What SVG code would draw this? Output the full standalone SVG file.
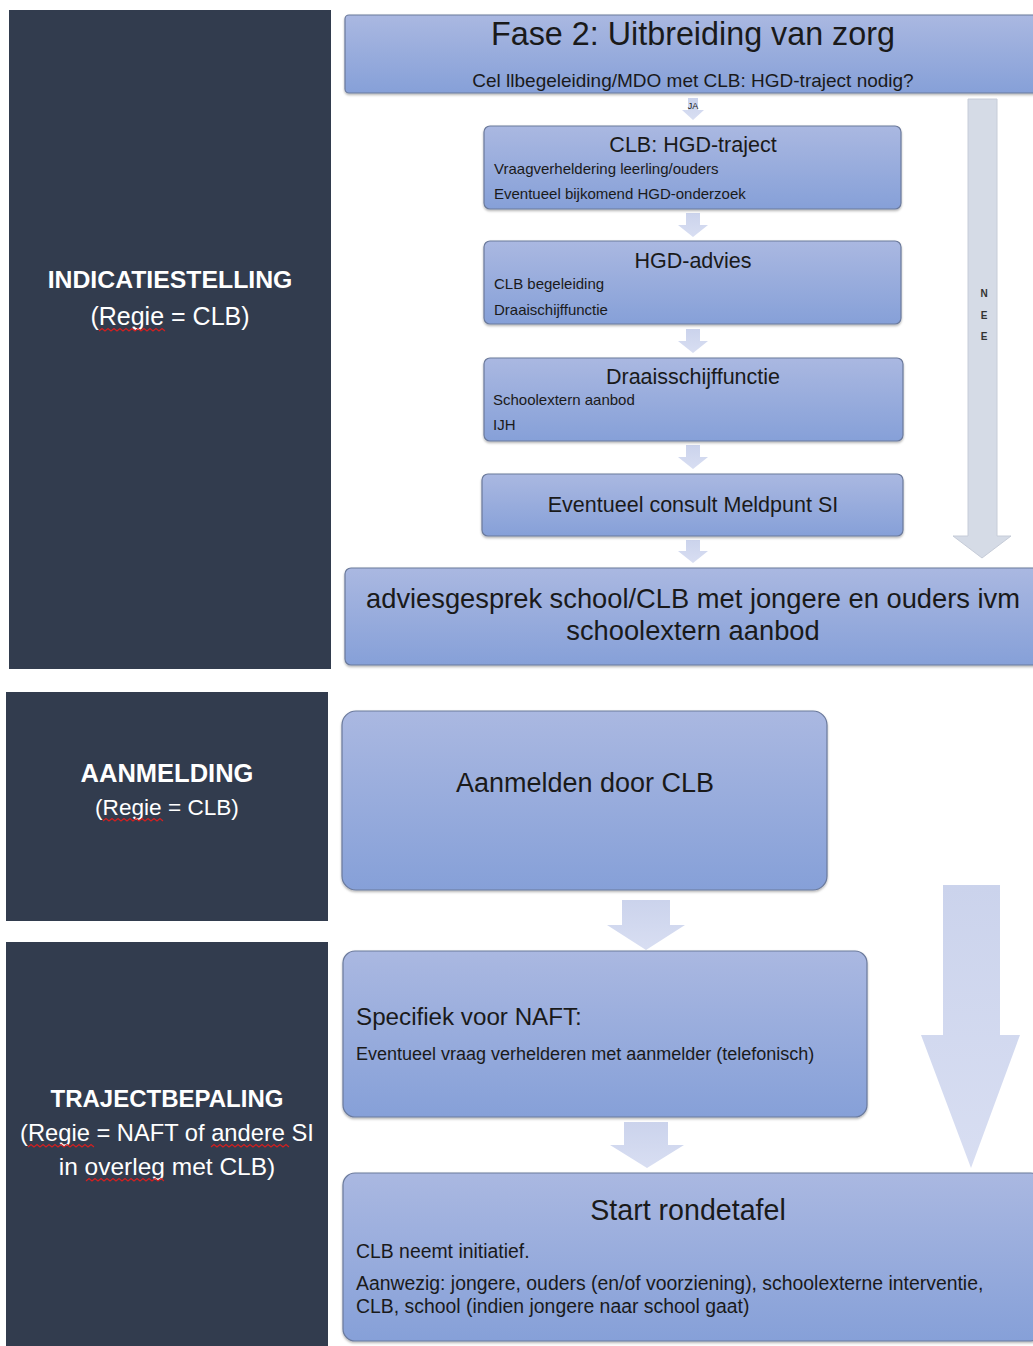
<svg xmlns="http://www.w3.org/2000/svg" width="1033" height="1346" viewBox="0 0 1033 1346">
<style>
.panel{fill:#323c4e}
.ptitle{font-family:"Liberation Sans",Arial,sans-serif;font-weight:bold;fill:#ffffff;text-anchor:middle}
.psub{font-family:"Liberation Sans",Arial,sans-serif;fill:#ffffff;text-anchor:middle}
.box{fill:url(#boxg);stroke:#6b7a9c;stroke-width:1.2}
.t{font-family:"Liberation Sans",Arial,sans-serif;fill:#1a1a1a}
.c{text-anchor:middle}
.s{font-size:15px}
.m{font-size:21.5px}
.arr{fill:url(#arrg)}
.squig{fill:none;stroke:#d42020;stroke-width:1.2}
.nee{font-family:"Liberation Sans",Arial,sans-serif;font-size:10px;font-weight:bold;fill:#333;text-anchor:middle}
</style>
<defs>
<linearGradient id="boxg" x1="0" y1="0" x2="0" y2="1">
<stop offset="0" stop-color="#aab8e1"/>
<stop offset="1" stop-color="#86a0d8"/>
</linearGradient>
<linearGradient id="arrg" x1="0" y1="0" x2="0" y2="1">
<stop offset="0" stop-color="#cbd3ec"/>
<stop offset="1" stop-color="#d8def2"/>
</linearGradient>
<filter id="sh" x="-5%" y="-5%" width="110%" height="115%">
<feDropShadow dx="0" dy="1.5" stdDeviation="1.2" flood-color="#000" flood-opacity="0.3"/>
</filter>
</defs>

<g id="panel-indicatiestelling">
<rect class="panel" x="9" y="10" width="322" height="659"/>
<text class="ptitle" x="170" y="288" font-size="24.8">INDICATIESTELLING</text>
<text class="psub" x="170" y="325" font-size="25">(Regie = CLB)</text>
<path class="squig" d="M99 331 l3 -2.5 l3 2.5 l3 -2.5 l3 2.5 l3 -2.5 l3 2.5 l3 -2.5 l3 2.5 l3 -2.5 l3 2.5 l3 -2.5 l3 2.5 l3 -2.5 l3 2.5 l3 -2.5 l3 2.5 l3 -2.5 l3 2.5 l3 -2.5 l3 2.5 l3 -2.5 l3 2.5"/>
</g>

<g id="panel-aanmelding">
<rect class="panel" x="6" y="692" width="322" height="229"/>
<text class="ptitle" x="167" y="782" font-size="25.5">AANMELDING</text>
<text class="psub" x="167" y="815" font-size="22.6">(Regie = CLB)</text>
<path class="squig" d="M103 821 l3 -2.5 l3 2.5 l3 -2.5 l3 2.5 l3 -2.5 l3 2.5 l3 -2.5 l3 2.5 l3 -2.5 l3 2.5 l3 -2.5 l3 2.5 l3 -2.5 l3 2.5 l3 -2.5 l3 2.5 l3 -2.5 l3 2.5 l3 -2.5 l3 2.5"/>
</g>

<g id="panel-trajectbepaling">
<rect class="panel" x="6" y="942" width="322" height="404"/>
<text class="ptitle" x="167" y="1107" font-size="24">TRAJECTBEPALING</text>
<text class="psub" x="167" y="1141" font-size="23.7">(Regie = NAFT of andere SI</text>
<text class="psub" x="167" y="1175" font-size="24.5">in overleg met CLB)</text>
<path class="squig" d="M28 1147 l3 -2.5 l3 2.5 l3 -2.5 l3 2.5 l3 -2.5 l3 2.5 l3 -2.5 l3 2.5 l3 -2.5 l3 2.5 l3 -2.5 l3 2.5 l3 -2.5 l3 2.5 l3 -2.5 l3 2.5 l3 -2.5 l3 2.5 l3 -2.5 l3 2.5 l3 -2.5 l3 2.5"/>
<path class="squig" d="M211 1147 l3 -2.5 l3 2.5 l3 -2.5 l3 2.5 l3 -2.5 l3 2.5 l3 -2.5 l3 2.5 l3 -2.5 l3 2.5 l3 -2.5 l3 2.5 l3 -2.5 l3 2.5 l3 -2.5 l3 2.5 l3 -2.5 l3 2.5 l3 -2.5 l3 2.5 l3 -2.5 l3 2.5 l3 -2.5 l3 2.5 l3 -2.5 l3 2.5"/>
<path class="squig" d="M86 1181 l3 -2.5 l3 2.5 l3 -2.5 l3 2.5 l3 -2.5 l3 2.5 l3 -2.5 l3 2.5 l3 -2.5 l3 2.5 l3 -2.5 l3 2.5 l3 -2.5 l3 2.5 l3 -2.5 l3 2.5 l3 -2.5 l3 2.5 l3 -2.5 l3 2.5 l3 -2.5 l3 2.5 l3 -2.5 l3 2.5 l3 -2.5 l3 2.5"/>
</g>

<g id="connectors">
<g id="arrow-ja">
<path class="arr" d="M688 98 h10 v12 h6 l-11 10 l-11 -10 h6 z"/>
<text class="t c" x="693" y="109" font-size="9" fill="#444">JA</text>
</g>
<path class="arr" d="M686 213 h14 v12 h8 l-15 12 l-15 -12 h8 z"/>
<path class="arr" d="M686 329 h14 v12 h8 l-15 12 l-15 -12 h8 z"/>
<path class="arr" d="M686 445 h14 v12 h8 l-15 12 l-15 -12 h8 z"/>
<path class="arr" d="M686 540 h14 v11 h8 l-15 12 l-15 -12 h8 z"/>
<g id="arrow-nee">
<path d="M968 99 h29 v437 h14 l-29 22 l-29 -22 h15 z" fill="#d5dbe6" stroke="#c6ccd8" stroke-width="1"/>
<text class="nee" x="984" y="297">N</text>
<text class="nee" x="984" y="319">E</text>
<text class="nee" x="984" y="340">E</text>
</g>
<path class="arr" d="M622 900 h48 v25 h15 l-39 25 l-39 -25 h15 z"/>
<path class="arr" d="M624 1122 h44 v23 h16 l-37 23 l-37 -23 h14 z"/>
<path class="arr" d="M943 885 h57 v150 h20 l-49 133 l-50 -133 h22 z"/>
</g>

<g id="node-fase2">
<rect class="box" filter="url(#sh)" x="345" y="15" width="700" height="78" rx="4"/>
<text class="t c" x="693" y="45" font-size="32.3">Fase 2: Uitbreiding van zorg</text>
<text class="t c" x="693" y="87" font-size="19">Cel llbegeleiding/MDO met CLB: HGD-traject nodig?</text>
</g>

<g id="node-hgd-traject">
<rect class="box" filter="url(#sh)" x="484" y="126" width="417" height="83" rx="6"/>
<text class="t c m" x="693" y="152">CLB: HGD-traject</text>
<text class="t s" x="494" y="174">Vraagverheldering leerling/ouders</text>
<text class="t s" x="494" y="199">Eventueel bijkomend HGD-onderzoek</text>
</g>

<g id="node-hgd-advies">
<rect class="box" filter="url(#sh)" x="484" y="241" width="417" height="83" rx="6"/>
<text class="t c m" x="693" y="268">HGD-advies</text>
<text class="t s" x="494" y="289">CLB begeleiding</text>
<text class="t s" x="494" y="315">Draaischijffunctie</text>
</g>

<g id="node-draaisschijf">
<rect class="box" filter="url(#sh)" x="484" y="358" width="419" height="83" rx="6"/>
<text class="t c m" x="693" y="384">Draaisschijffunctie</text>
<text class="t s" x="493" y="405">Schoolextern aanbod</text>
<text class="t s" x="493" y="430">IJH</text>
</g>

<g id="node-meldpunt">
<rect class="box" filter="url(#sh)" x="482" y="474" width="421" height="62" rx="6"/>
<text class="t c m" x="693" y="512">Eventueel consult Meldpunt SI</text>
</g>

<g id="node-adviesgesprek">
<rect class="box" filter="url(#sh)" x="345" y="568" width="700" height="97" rx="6"/>
<text class="t c" x="693" y="608" font-size="27.3">adviesgesprek school/CLB met jongere en ouders ivm</text>
<text class="t c" x="693" y="640" font-size="27.3">schoolextern aanbod</text>
</g>

<g id="node-aanmelden">
<rect class="box" filter="url(#sh)" x="342" y="711" width="485" height="179" rx="14"/>
<text class="t c" x="585" y="792" font-size="27">Aanmelden door CLB</text>
</g>

<g id="node-specifiek">
<rect class="box" filter="url(#sh)" x="343" y="951" width="524" height="166" rx="12"/>
<text class="t" x="356" y="1025" font-size="24.2">Specifiek voor NAFT:</text>
<text class="t" x="356" y="1060" font-size="18">Eventueel vraag verhelderen met aanmelder (telefonisch)</text>
</g>

<g id="node-rondetafel">
<rect class="box" filter="url(#sh)" x="343" y="1173" width="700" height="168" rx="12"/>
<text class="t c" x="688" y="1220" font-size="28.6">Start rondetafel</text>
<text class="t" x="356" y="1258" font-size="19.4">CLB neemt initiatief.</text>
<text class="t" x="356" y="1290" font-size="19.4">Aanwezig: jongere, ouders (en/of voorziening), schoolexterne interventie,</text>
<text class="t" x="356" y="1313" font-size="19.4">CLB, school (indien jongere naar school gaat)</text>
</g>
</svg>
